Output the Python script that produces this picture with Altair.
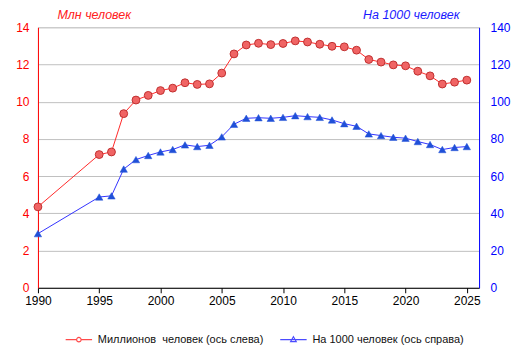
import altair as alt
import pandas as pd

years = [1990, 1995, 1996, 1997, 1998, 1999, 2000, 2001, 2002, 2003, 2004, 2005,
         2006, 2007, 2008, 2009, 2010, 2011, 2012, 2013, 2014, 2015, 2016, 2017,
         2018, 2019, 2020, 2021, 2022, 2023, 2024, 2025]
millions = [4.35, 7.16, 7.3, 9.36, 10.09, 10.34, 10.6, 10.73, 11.02, 10.93, 10.96, 11.54,
            12.57, 13.05, 13.14, 13.07, 13.13, 13.27, 13.21, 13.09, 12.98, 12.95, 12.77, 12.27,
            12.13, 11.98, 11.93, 11.64, 11.39, 10.95, 11.05, 11.16]
per1000 = [29.1, 48.8, 49.4, 63.8, 68.9, 71.1, 73.0, 74.3, 76.8, 75.9, 76.6, 81.1,
           87.9, 91.1, 91.4, 91.1, 91.6, 92.5, 92.0, 91.6, 90.2, 88.2, 86.8, 82.7,
           81.8, 80.9, 80.4, 78.6, 77.0, 74.3, 75.4, 75.9]
series_names = ["Миллионов\u00a0 человек (ось слева)", "На 1000 человек (ось справа)"]
x_ticks = [1990, 1995, 2000, 2005, 2010, 2015, 2020, 2025]
left_ticks = [0, 2, 4, 6, 8, 10, 12, 14]
right_ticks = [0, 20, 40, 60, 80, 100, 120, 140]

df = pd.DataFrame({"year": years, "mln": millions, "per": per1000})
leg = pd.DataFrame({"series": series_names, "year": [1990, 1990], "mln": [0, 0], "per": [0, 0]})

FONT = "Liberation Sans"
RED_LINE = "#FF2A2A"
BLUE_LINE = "#3333FF"

xenc = alt.X("year:Q", scale=alt.Scale(domain=[1990, 2026], nice=False, zero=False),
             axis=alt.Axis(values=x_ticks, format="d", title=None, grid=False,
                           domainColor="#000000", tickColor="#000000", tickSize=5,
                           labelColor="#000000", labelFontSize=12, labelPadding=3,
                           labelFont=FONT, labelFlush=False))

yleft = alt.Y("mln:Q", scale=alt.Scale(domain=[0, 14], nice=False),
              axis=alt.Axis(values=left_ticks, title="Млн человек", grid=True,
                            gridColor="#C0C0C0", domainColor="#FF0000", ticks=False,
                            labelColor="#FF0000", labelFontSize=12, labelPadding=9,
                            labelFont=FONT,
                            titleColor="#FF2020", titleFont=FONT, titleFontSize=12.5,
                            titleFontStyle="italic", titleFontWeight="normal",
                            titleAngle=0, titleX=19, titleY=-9, titleAlign="left",
                            titleBaseline="alphabetic"))
yright = alt.Y("per:Q", scale=alt.Scale(domain=[0, 140], nice=False),
               axis=alt.Axis(values=right_ticks, orient="right", title="На 1000 человек",
                             grid=False, domainColor="#0000FF", ticks=False,
                             labelColor="#0000FF", labelFontSize=12, labelPadding=11,
                             labelFont=FONT,
                             titleColor="#1A1AFF", titleFont=FONT, titleFontSize=12.5,
                             titleFontStyle="italic", titleFontWeight="normal",
                             titleAngle=0, titleX=-20, titleY=-9, titleAlign="right",
                             titleBaseline="alphabetic"))

base = alt.Chart(df)

red_line = base.mark_line(color=RED_LINE, strokeWidth=1).encode(x=xenc, y=yleft)
red_pts = base.mark_point(filled=True, shape="circle", size=62, fill="#F06464",
                          stroke="#C03030", strokeWidth=1, opacity=1).encode(x=xenc, y=yleft)

circle_path = "M-1,0H-0.17A0.17,0.17 0 1,1 0.17,0A0.17,0.17 0 1,1 -0.17,0M0.17,0H1"
tri_path = "M-1,0H1M0,-0.22L0.21,0.14H-0.21Z"

legend_layer = alt.Chart(leg).mark_point(filled=False, strokeWidth=1.2).encode(
    x=xenc, y=yleft,
    color=alt.Color("series:N",
                    scale=alt.Scale(domain=series_names, range=["#FF0000", "#0000FF"]),
                    legend=alt.Legend(title=None, orient="none", direction="horizontal",
                                      legendX=27, legendY=47 + 261 - 9,
                                      symbolSize=700, symbolStrokeWidth=1.2,
                                      labelFont=FONT, labelFontSize=11,
                                      labelColor="#111111", columnPadding=13,
                                      labelOffset=5, labelLimit=400)),
    shape=alt.Shape("series:N",
                    scale=alt.Scale(domain=series_names, range=[circle_path, tri_path]),
                    legend=None),
).transform_filter("datum.mln > 100")

blue_line = base.mark_line(color=BLUE_LINE, strokeWidth=1).encode(x=xenc, y=yright)
blue_pts = base.mark_point(filled=True, shape="triangle-up", size=55, fill="#2050D8",
                           stroke="#2050D8", strokeWidth=0.5, opacity=1).encode(x=xenc, y=yright)

left_group = alt.layer(red_line, red_pts, legend_layer)
right_group = alt.layer(blue_line, blue_pts)

chart = alt.layer(left_group, right_group).resolve_scale(
    y="independent", color="independent", shape="independent"
).properties(
    width=442, height=261,
    padding={"top": 0, "left": 7, "right": 5, "bottom": 5},
).configure_view(stroke="#888888", strokeWidth=1).configure(background="white")

chart.save("out.html", embed_options={"renderer": "svg", "actions": False})
